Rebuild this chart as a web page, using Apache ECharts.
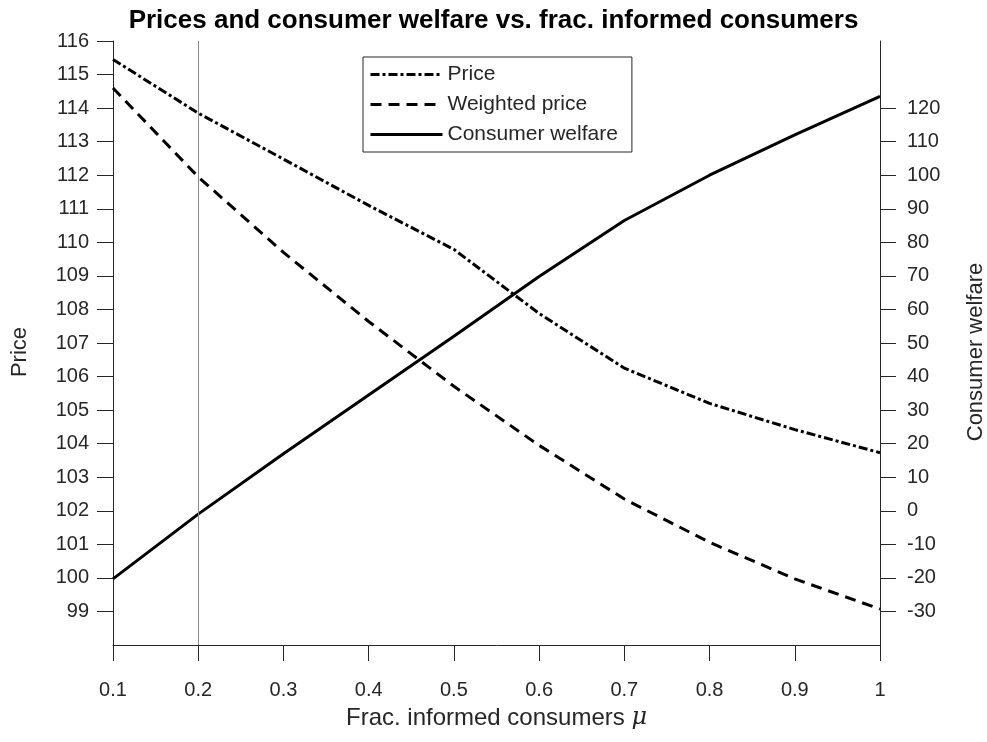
<!DOCTYPE html>
<html>
<head>
<meta charset="utf-8">
<script src="https://cdn.jsdelivr.net/npm/echarts@6/dist/echarts.min.js"></script>
<style>
  html, body { margin: 0; padding: 0; background: #fff; }
  #chart { width: 987px; height: 742px; }
</style>
</head>
<body>
<div id="chart"></div>
<script>
// fraction of informed consumers
const mu = [0.1, 0.2, 0.3, 0.4, 0.5, 0.6, 0.7, 0.8, 0.9, 1.0]
const price = [115.45, 113.85, 112.48, 111.1, 109.79, 107.88, 106.25, 105.2, 104.42, 103.73]
const weightedPrice = [114.6, 111.95, 109.7, 107.64, 105.71, 103.95, 102.35, 101.06, 99.97, 99.07]
const welfare = [-20.3, -1, 17, 34.5, 52, 69.8, 86.5, 100, 112, 123.5]
const markerX = 0.204

const xTicks = [0.1, 0.2, 0.3, 0.4, 0.5, 0.6, 0.7, 0.8, 0.9, 1]
const priceTicks = [99, 100, 101, 102, 103, 104, 105, 106, 107, 108, 109, 110, 111, 112, 113, 114, 115, 116]
const welfareTicks = [-30, -20, -10, 0, 10, 20, 30, 40, 50, 60, 70, 80, 90, 100, 110, 120]

const font = '"Liberation Sans", Arial, sans-serif'
const axisColor = '#262626'

const chart = echarts.init(document.getElementById('chart'))

const pairs = (ys) => mu.map((x, i) => [x, ys[i]])

const baseAxis = {
  axisLine: { show: true, onZero: false, lineStyle: { color: axisColor, width: 1 } },
  axisTick: { show: true, inside: false, length: 16, lineStyle: { color: axisColor, width: 1 } },
  splitLine: { show: false },
  axisLabel: { color: axisColor, fontFamily: font, fontSize: 20 },
  nameTextStyle: { color: axisColor, fontFamily: font, fontSize: 22 }
}

chart.setOption({
  animation: false,
  title: {
    text: 'Prices and consumer welfare vs. frac. informed consumers',
    left: 'center',
    top: 3,
    textStyle: { fontFamily: font, fontSize: 26, fontWeight: 'bold', color: '#000' }
  },
  legend: {
    orient: 'vertical',
    left: 363,
    top: 57,
    padding: [7, 14, 7, 6],
    itemGap: 9,
    itemWidth: 72,
    itemHeight: 14,
    borderColor: axisColor,
    borderWidth: 1,
    backgroundColor: '#fff',
    itemStyle: { opacity: 0 },
    lineStyle: { width: 3 },
    textStyle: { fontFamily: font, fontSize: 21, color: axisColor },
    data: ['Price', 'Weighted price', 'Consumer welfare']
  },
  grid: { left: 113, right: 107, top: 41, bottom: 97, containLabel: false, outerBoundsMode: 'none' },
  xAxis: {
    ...baseAxis,
    type: 'value',
    min: 0.1,
    max: 1,
    interval: 0.1,
    axisTick: { ...baseAxis.axisTick, customValues: xTicks },
    axisLabel: {
      ...baseAxis.axisLabel,
      margin: 35,
      customValues: xTicks,
      formatter: (v) => String(Math.round(v * 10) / 10)
    },
    name: 'Frac. informed consumers {mu|μ}',
    nameLocation: 'middle',
    nameGap: 61,
    nameTextStyle: {
      ...baseAxis.nameTextStyle,
      fontSize: 24,
      rich: { mu: { fontFamily: '"DejaVu Serif", serif', fontStyle: 'italic', fontSize: 24, color: axisColor } }
    }
  },
  yAxis: [
    {
      ...baseAxis,
      type: 'value',
      position: 'left',
      min: 98,
      max: 116,
      interval: 1,
      axisTick: { ...baseAxis.axisTick, customValues: priceTicks },
      axisLabel: { ...baseAxis.axisLabel, margin: 24, customValues: priceTicks },
      name: 'Price',
      nameLocation: 'middle',
      nameGap: 82,
      nameRotate: 90,
      nameTextStyle: { ...baseAxis.nameTextStyle, padding: [0, 18, 0, 0] }
    },
    {
      ...baseAxis,
      type: 'value',
      position: 'right',
      min: -40,
      max: 140,
      interval: 10,
      axisTick: { ...baseAxis.axisTick, customValues: welfareTicks },
      axisLabel: { ...baseAxis.axisLabel, margin: 27, customValues: welfareTicks },
      name: 'Consumer welfare',
      nameLocation: 'middle',
      nameGap: 85,
      nameRotate: 90,
      nameTextStyle: { ...baseAxis.nameTextStyle, padding: [0, 18, 0, 0] }
    }
  ],
  series: [
    {
      name: 'Price',
      type: 'line',
      yAxisIndex: 0,
      symbol: 'none',
      data: pairs(price),
      lineStyle: { color: '#000', width: 3, type: [9, 3, 3, 3] },
      itemStyle: { color: '#000' },
      markLine: {
        silent: true,
        symbol: 'none',
        label: { show: false },
        lineStyle: { color: '#8c8c8c', width: 1, type: 'solid' },
        data: [{ xAxis: markerX }]
      }
    },
    {
      name: 'Weighted price',
      type: 'line',
      yAxisIndex: 0,
      symbol: 'none',
      data: pairs(weightedPrice),
      lineStyle: { color: '#000', width: 3, type: [11, 7] },
      itemStyle: { color: '#000' }
    },
    {
      name: 'Consumer welfare',
      type: 'line',
      yAxisIndex: 1,
      symbol: 'none',
      data: pairs(welfare),
      lineStyle: { color: '#000', width: 3, type: 'solid' },
      itemStyle: { color: '#000' }
    }
  ]
})
</script>
</body>
</html>
